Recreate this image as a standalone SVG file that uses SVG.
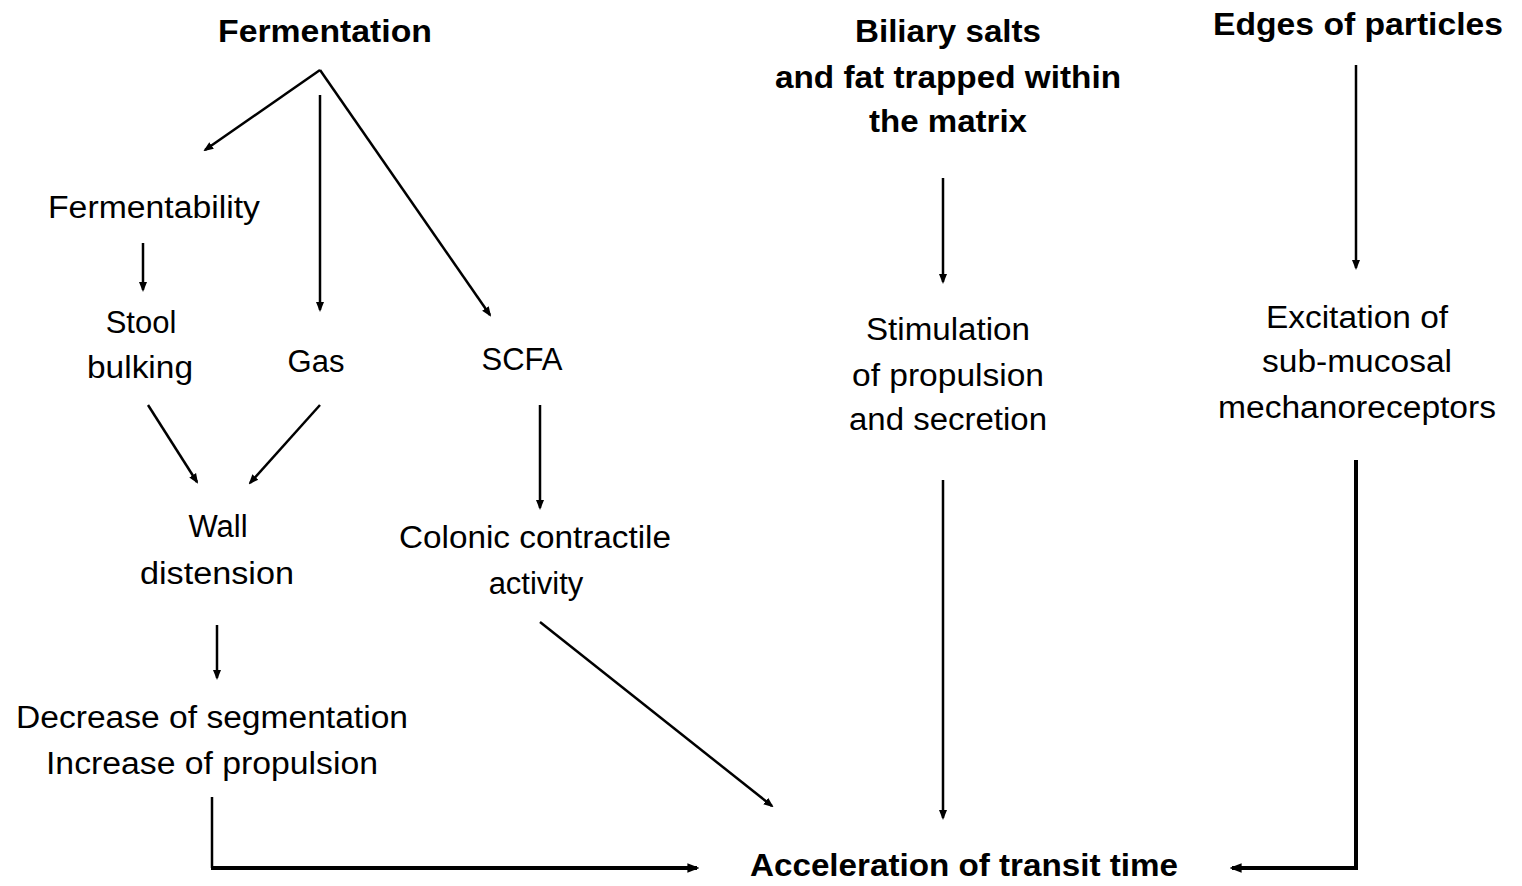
<svg xmlns="http://www.w3.org/2000/svg" width="1522" height="886" viewBox="0 0 1522 886">
<style>
text{font-family:"Liberation Sans",Arial,sans-serif;font-size:31px;fill:#000;text-anchor:middle}
.b{font-weight:bold}
.c{fill:none;stroke:#000;stroke-width:2.5}
.t{fill:none;stroke:#000;stroke-width:4}
</style>
<defs>
<marker id="a" viewBox="0 0 10 10" refX="8" refY="5" markerWidth="4" markerHeight="4" markerUnits="strokeWidth" orient="auto"><path d="M0,1 L10,5 L0,9 z" fill="#000"/></marker>
<marker id="a2" viewBox="0 0 10 10" refX="8" refY="5" markerWidth="3" markerHeight="3" markerUnits="strokeWidth" orient="auto"><path d="M0,1 L10,5 L0,9 z" fill="#000"/></marker>
</defs>
<rect width="1522" height="886" fill="#fff"/>
<g id="connectors">
<path class="c" d="M320,70 L205,150" marker-end="url(#a)"/>
<path class="c" d="M320,95 L320,310" marker-end="url(#a)"/>
<path class="c" d="M320,70 L490,315" marker-end="url(#a)"/>
<path class="c" d="M143,243 L143,290" marker-end="url(#a)"/>
<path class="c" d="M148,405 L197,482" marker-end="url(#a)"/>
<path class="c" d="M320,405 L250,483" marker-end="url(#a)"/>
<path class="c" d="M540,405 L540,508" marker-end="url(#a)"/>
<path class="c" d="M217,625 L217,678" marker-end="url(#a)"/>
<path class="c" d="M540,622 L772,806" marker-end="url(#a)"/>
<path class="c" d="M212,797 L212,868"/>
<path class="t" d="M211,868 L697,868" marker-end="url(#a2)"/>
<path class="c" d="M943,178 L943,282" marker-end="url(#a)"/>
<path class="c" d="M943,480 L943,818" marker-end="url(#a)"/>
<path class="c" d="M1356,65 L1356,268" marker-end="url(#a)"/>
<path class="t" d="M1356,460 L1356,868 L1232,868" marker-end="url(#a2)"/>
</g>
<g id="fermentation"><text class="b" x="325" y="42" textLength="214" lengthAdjust="spacingAndGlyphs">Fermentation</text></g>
<g id="fermentability"><text x="154" y="218" textLength="212" lengthAdjust="spacingAndGlyphs">Fermentability</text></g>
<g id="stool"><text x="141" y="333">Stool</text><text x="140" y="378" textLength="106" lengthAdjust="spacingAndGlyphs">bulking</text></g>
<g id="gas"><text x="316" y="372">Gas</text></g>
<g id="scfa"><text x="522" y="370">SCFA</text></g>
<g id="wall"><text x="218" y="537">Wall</text><text x="217" y="584" textLength="154" lengthAdjust="spacingAndGlyphs">distension</text></g>
<g id="colonic"><text x="535" y="548" textLength="272" lengthAdjust="spacingAndGlyphs">Colonic contractile</text><text x="536" y="594">activity</text></g>
<g id="decrease"><text x="212" y="728" textLength="392" lengthAdjust="spacingAndGlyphs">Decrease of segmentation</text><text x="212" y="774" textLength="332" lengthAdjust="spacingAndGlyphs">Increase of propulsion</text></g>
<g id="acceleration"><text class="b" x="964" y="876" textLength="428" lengthAdjust="spacingAndGlyphs">Acceleration of transit time</text></g>
<g id="biliary"><text class="b" x="948" y="42" textLength="186" lengthAdjust="spacingAndGlyphs">Biliary salts</text><text class="b" x="948" y="88" textLength="346" lengthAdjust="spacingAndGlyphs">and fat trapped within</text><text class="b" x="948" y="132" textLength="158" lengthAdjust="spacingAndGlyphs">the matrix</text></g>
<g id="stimulation"><text x="948" y="340" textLength="164" lengthAdjust="spacingAndGlyphs">Stimulation</text><text x="948" y="386" textLength="192" lengthAdjust="spacingAndGlyphs">of propulsion</text><text x="948" y="430" textLength="198" lengthAdjust="spacingAndGlyphs">and secretion</text></g>
<g id="edges"><text class="b" x="1358" y="35" textLength="290" lengthAdjust="spacingAndGlyphs">Edges of particles</text></g>
<g id="excitation"><text x="1357" y="328" textLength="182" lengthAdjust="spacingAndGlyphs">Excitation of</text><text x="1357" y="372" textLength="190" lengthAdjust="spacingAndGlyphs">sub-mucosal</text><text x="1357" y="418" textLength="278" lengthAdjust="spacingAndGlyphs">mechanoreceptors</text></g>
</svg>
